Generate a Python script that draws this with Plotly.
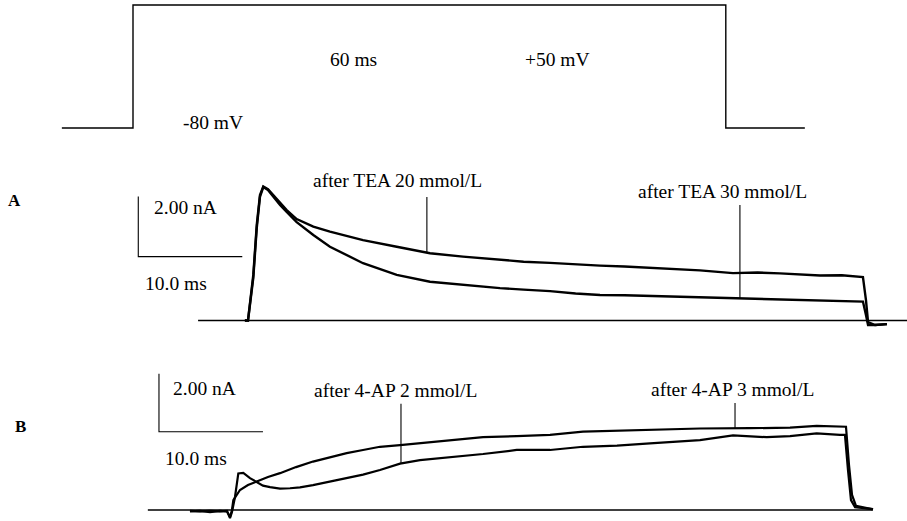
import numpy as np
import plotly.graph_objects as go

# ---------------- data ----------------
# voltage protocol (ms, mV)
proto_t = [-7.2, 0.0, 0.0, 60.0, 60.0, 68.0]
proto_v = [-80, -80, 50, 50, -80, -80]

# Panel A: currents (ms, nA)
a_t = [-0.3, 0.0, 0.51, 0.84, 1.15, 1.47, 1.92, 2.43, 3.08, 3.72, 4.68, 6.28, 7.88,
       11.06, 14.30, 17.5, 20.67, 24.23, 26.5, 29.04, 31.5, 33.85, 36.2, 38.65, 41.0,
       43.46, 46.63, 49.0, 51.15, 53.2, 55.0, 57.1, 59.13, 59.42, 59.62, 60.29, 61.44]
a_tea20 = [0.0, 0.0, 1.52, 3.18, 4.18, 4.47, 4.38, 4.18, 3.95, 3.68, 3.38, 3.13, 2.96,
           2.68, 2.46, 2.24, 2.13, 2.02, 1.96, 1.92, 1.87, 1.83, 1.80, 1.75, 1.72,
           1.67, 1.58, 1.60, 1.57, 1.53, 1.50, 1.51, 1.45, 0.68, -0.05, -0.15, -0.12]
a_tea30 = [0.0, 0.0, 1.42, 3.08, 4.12, 4.45, 4.35, 4.12, 3.85, 3.62, 3.28, 2.85, 2.46,
           1.91, 1.52, 1.29, 1.18, 1.08, 1.03, 0.98, 0.90, 0.85, 0.84, 0.82, 0.80,
           0.78, 0.75, 0.73, 0.72, 0.70, 0.68, 0.66, 0.63, 0.18, -0.15, -0.15, -0.12]
a_baseline_t = [-4.8, 63.4]

# Panel B: currents (ms, nA)
b_t_ap2 = [-3.85, -2.88, -1.92, -0.96, -0.29, 0.0, 0.19, 0.48, 0.80, 1.28, 1.92, 2.57,
           3.17, 3.85, 4.81, 5.77, 6.73, 7.98, 9.62, 11.22, 12.79, 14.42, 16.35, 18.27,
           21.15, 24.33, 27.57, 30.77, 33.94, 37.21, 40.38, 45.19, 48.37, 51.61, 53.85,
           56.41, 58.65, 59.13, 59.42, 59.71, 60.10, 61.06, 61.83]
b_ap2 = [-0.03, -0.05, -0.03, -0.05, -0.03, -0.28, -0.07, 0.45, 1.26, 1.28, 1.10, 0.97,
         0.84, 0.79, 0.74, 0.75, 0.78, 0.86, 0.98, 1.09, 1.22, 1.38, 1.60, 1.72,
         1.82, 1.93, 2.07, 2.07, 2.18, 2.22, 2.30, 2.41, 2.57, 2.51, 2.55,
         2.64, 2.59, 2.59, 1.38, 0.34, 0.10, 0.05, 0.03]
b_t_ap3 = [-3.85, -2.88, -1.92, -0.96, -0.29, 0.0, 0.19, 0.32, 0.96, 1.73, 2.57, 3.65,
           4.81, 6.35, 7.98, 9.62, 11.22, 12.79, 14.42, 16.35, 18.27, 21.15, 24.33, 27.57,
           30.77, 33.94, 37.5, 41.99, 45.19, 50.0, 53.85, 56.41, 58.97, 59.23, 59.52,
           59.81, 60.19, 61.06, 61.83]
b_ap3 = [-0.05, -0.03, -0.07, -0.03, -0.05, -0.24, 0.0, 0.34, 0.69, 0.86, 0.98, 1.14,
         1.27, 1.48, 1.67, 1.83, 1.96, 2.07, 2.18, 2.24, 2.30, 2.41, 2.51, 2.55,
         2.59, 2.70, 2.74, 2.78, 2.81, 2.82, 2.84, 2.90, 2.87, 2.87, 1.55,
         0.52, 0.14, 0.07, 0.02]
b_baseline_t = [-7.9, 61.8]

# scale bars
scale_nA = 2.0
scale_ms = 10.0
labels_A = ["after TEA 20 mmol/L", "after TEA 30 mmol/L"]
labels_B = ["after 4-AP 2 mmol/L", "after 4-AP 3 mmol/L"]
proto_labels = ["60 ms", "+50 mV", "-80 mV"]

# ---------------- layout helpers ----------------
W, H = 907, 521
FONT = "Liberation Serif"
TXT = 19.5


def xr(x0, px_per):
    return [(0 - x0) / px_per, (W - x0) / px_per]


def yr(y0, px_per, v0=0.0):
    return [v0 + (y0 - H) / px_per, v0 + y0 / px_per]


# pixel calibrations
PA = dict(x0=248, sx=10.4, y0=320.5, sy=30.0)
PB = dict(x0=230, sx=10.4, y0=510, sy=29.0)
PP = dict(x0=133, sx=9.88, y0=128, sy=0.946)

fig = go.Figure()


def add(x, y, ax, width):
    fig.add_trace(go.Scatter(x=x, y=y, mode="lines", xaxis=ax[0], yaxis=ax[1],
                             line=dict(color="black", width=width),
                             showlegend=False, hoverinfo="skip"))


P_AX = ("x", "y")
A_AX = ("x2", "y2")
B_AX = ("x3", "y3")

# protocol
add(proto_t, proto_v, P_AX, 1.4)

# panel A
add(a_baseline_t, [0, 0], A_AX, 1.3)
add(a_t, a_tea20, A_AX, 2.4)
add(a_t, a_tea30, A_AX, 2.4)
sbA = (-10.55, 2.13)
add([sbA[0], sbA[0], sbA[0] + scale_ms], [sbA[1] + scale_nA, sbA[1], sbA[1]], A_AX, 1.1)
pA1 = 17.2
pA2 = 47.3
add([pA1, pA1], [float(np.interp(pA1, a_t, a_tea20)), 4.12], A_AX, 1.1)
add([pA2, pA2], [float(np.interp(pA2, a_t, a_tea30)), 3.85], A_AX, 1.1)

# panel B
add(b_baseline_t, [0, 0], B_AX, 1.3)
add(b_t_ap2, b_ap2, B_AX, 2.2)
add(b_t_ap3, b_ap3, B_AX, 2.2)
sbB = (-6.83, 2.70)
add([sbB[0], sbB[0], sbB[0] + scale_ms], [sbB[1] + scale_nA, sbB[1], sbB[1]], B_AX, 1.1)
pB1 = 16.44
pB2 = 48.56
add([pB1, pB1], [float(np.interp(pB1, b_t_ap2, b_ap2)), 3.66], B_AX, 1.1)
add([pB2, pB2], [float(np.interp(pB2, b_t_ap3, b_ap3)), 3.69], B_AX, 1.1)

ax_common = dict(visible=False, showgrid=False, zeroline=False, fixedrange=True)
fig.update_layout(
    width=W, height=H, margin=dict(l=0, r=0, t=0, b=0),
    paper_bgcolor="white", plot_bgcolor="rgba(0,0,0,0)",
    showlegend=False,
    xaxis=dict(domain=[0, 1], range=xr(PP["x0"], PP["sx"]), **ax_common),
    yaxis=dict(domain=[0, 1], range=yr(PP["y0"], PP["sy"], -80), **ax_common),
    xaxis2=dict(domain=[0, 1], range=xr(PA["x0"], PA["sx"]), overlaying="x", anchor="y2", **ax_common),
    yaxis2=dict(domain=[0, 1], range=yr(PA["y0"], PA["sy"]), overlaying="y", anchor="x2", **ax_common),
    xaxis3=dict(domain=[0, 1], range=xr(PB["x0"], PB["sx"]), overlaying="x", anchor="y3", **ax_common),
    yaxis3=dict(domain=[0, 1], range=yr(PB["y0"], PB["sy"]), overlaying="y", anchor="x3", **ax_common),
    font=dict(family=FONT, color="black", size=TXT),
)


def txt(text, x, y, xref, yref, xanchor="center", size=TXT, bold=False):
    fig.add_annotation(text=f"<b>{text}</b>" if bold else text, x=x, y=y,
                       xref=xref, yref=yref, showarrow=False, xanchor=xanchor,
                       yanchor="middle", font=dict(family=FONT, size=size, color="black"))


# protocol labels
txt(proto_labels[0], 22.3, -8.1, "x", "y")
txt(proto_labels[1], 43.0, -8.1, "x", "y")
txt(proto_labels[2], 8.1, -73.7, "x", "y")

# panel A labels
txt(labels_A[0], 14.33, 4.66, "x2", "y2")
txt(labels_A[1], 45.67, 4.31, "x2", "y2")
txt(f"{scale_nA:.2f} nA", -9.23, 3.78, "x2", "y2", xanchor="left")
txt(f"{scale_ms:.1f} ms", -10.1, 1.25, "x2", "y2", xanchor="left")

# panel B labels
txt(labels_B[0], 15.96, 4.13, "x3", "y3")
txt(labels_B[1], 48.27, 4.15, "x3", "y3")
txt(f"{scale_nA:.2f} nA", -5.67, 4.20, "x3", "y3", xanchor="left")
txt(f"{scale_ms:.1f} ms", -6.44, 1.79, "x3", "y3", xanchor="left")

# panel letters
txt("A", 14 / W, 1 - 200 / H, "paper", "paper", size=17, bold=True)
txt("B", 20 / W, 1 - 426 / H, "paper", "paper", size=17, bold=True)

# remove the default page margin so the figure sits at the window's corner
fig.write_html("out.html", config={"displayModeBar": False},
               post_script="document.body.style.margin='0';")
